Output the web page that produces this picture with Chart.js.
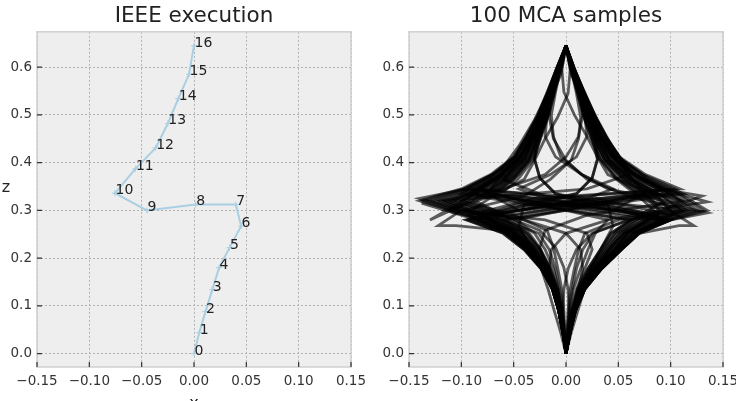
<!DOCTYPE html>
<html>
<head>
<meta charset="utf-8">
<script src="https://cdn.jsdelivr.net/npm/chart.js@4.4.1/dist/chart.umd.min.js"></script>
<style>
    html, body { margin: 0; padding: 0; background: #fff; overflow: hidden; width: 736px; height: 401px; }
    body { position: relative; }
    #ieeeChart { position: absolute; left: 0; top: 0; }
    #mcaChart { position: absolute; left: 370px; top: 0; }
</style>
</head>
<body>
<canvas id="ieeeChart" width="375" height="401" style="width:375px;height:401px"></canvas>
<canvas id="mcaChart" width="380" height="401" style="width:380px;height:401px"></canvas>
<script>
// Ticks
const xTickVals = [-0.15, -0.10, -0.05, 0.00, 0.05, 0.10, 0.15];
const zTickVals = [0.0, 0.1, 0.2, 0.3, 0.4, 0.5, 0.6];

// IEEE execution (points 0..16)
const ieeeX = [0, 0.005, 0.011, 0.0175, 0.024, 0.034, 0.045, 0.040, 0.0016, -0.045, -0.0755, -0.056, -0.0366, -0.025, -0.015, -0.0048, 0];
const ieeeZ = [0, 0.044, 0.088, 0.134, 0.180, 0.222, 0.267, 0.3125, 0.3125, 0.300, 0.336, 0.387, 0.431, 0.482, 0.534, 0.585, 0.645];

// MCA samples: z profiles
const zA = [0, .045, .09, .135, .178, .218, .252, .28, .30, .33, .365, .405, .45, .495, .545, .595, .645];
const zB = [0, .045, .09, .135, .18, .222, .258, .29, .32, .345, .375, .412, .455, .5, .548, .597, .645];
const zC = [0, .045, .09, .135, .178, .218, .252, .28, .31, .335, .368, .407, .452, .497, .546, .596, .645];
const zD = [0, .044, .088, .134, .18, .222, .267, .3125, .3125, .30, .336, .387, .431, .482, .534, .585, .645];
const zE = [0, .045, .09, .135, .178, .218, .255, .29, .325, .345, .375, .412, .455, .5, .548, .597, .645];
const zZ1 = [0, .045, .09, .135, .178, .218, .252, .268, .268, .305, .318, .345, .38, .43, .49, .57, .645];
const zZ2 = [0, .045, .09, .135, .18, .222, .258, .268, .268, .30, .325, .345, .385, .435, .49, .57, .645];
const zZ3 = [0, .045, .09, .135, .178, .218, .252, .28, .295, .31, .33, .345, .375, .415, .47, .55, .645];
const zZ4 = [0, .045, .09, .135, .18, .222, .258, .29, .315, .30, .28, .33, .37, .415, .47, .55, .645];

// MCA samples: x of each sample
const mcaX = [
    // bows to the right
    [0,.004,.009,.018,.034,.053,.070,.100,.135,.112,.078,.053,.039,.028,.018,.008,0],
    [0,.004,.008,.017,.032,.049,.065,.093,.126,.104,.073,.049,.036,.026,.017,.007,0],
    [0,.003,.008,.015,.029,.046,.060,.086,.116,.096,.067,.046,.034,.024,.015,.007,0],
    [0,.003,.007,.014,.027,.041,.055,.078,.105,.087,.061,.041,.030,.022,.014,.006,0],
    [0,.003,.006,.013,.024,.037,.049,.070,.095,.078,.055,.037,.027,.020,.013,.006,0],
    [0,.002,.006,.011,.021,.033,.043,.062,.084,.069,.048,.033,.024,.017,.011,.005,0],
    [0,.004,.009,.017,.033,.051,.068,.097,.131,.109,.076,.051,.038,.027,.017,.008,0],
    [0,.004,.008,.016,.031,.048,.063,.090,.122,.101,.070,.048,.035,.025,.016,.007,0],
    [0,.003,.007,.015,.028,.043,.057,.082,.111,.092,.064,.043,.032,.023,.015,.007,0],
    [0,.003,.007,.013,.025,.039,.052,.074,.100,.083,.058,.039,.029,.021,.013,.006,0],
    [0,.003,.006,.012,.022,.035,.046,.066,.089,.074,.051,.035,.026,.018,.012,.005,0],
    // bows to the left
    [0,-.003,-.007,-.013,-.024,-.040,-.060,-.095,-.140,-.100,-.072,-.050,-.038,-.027,-.018,-.009,0],
    [0,-.003,-.007,-.012,-.022,-.037,-.056,-.088,-.130,-.093,-.067,-.047,-.035,-.025,-.017,-.008,0],
    [0,-.003,-.006,-.011,-.021,-.034,-.052,-.082,-.120,-.086,-.062,-.043,-.033,-.023,-.015,-.008,0],
    [0,-.002,-.005,-.010,-.019,-.031,-.047,-.074,-.109,-.078,-.056,-.039,-.030,-.021,-.014,-.007,0],
    [0,-.002,-.005,-.009,-.017,-.028,-.042,-.067,-.098,-.070,-.050,-.035,-.027,-.019,-.013,-.006,0],
    [0,-.002,-.004,-.008,-.015,-.025,-.037,-.059,-.087,-.062,-.045,-.031,-.024,-.017,-.011,-.006,0],
    [0,-.003,-.007,-.013,-.023,-.039,-.058,-.092,-.136,-.097,-.070,-.049,-.037,-.026,-.017,-.009,0],
    [0,-.003,-.006,-.012,-.022,-.036,-.054,-.086,-.126,-.090,-.065,-.045,-.034,-.024,-.016,-.008,0],
    [0,-.002,-.006,-.011,-.020,-.033,-.049,-.078,-.115,-.082,-.059,-.041,-.031,-.022,-.015,-.007,0],
    [0,-.002,-.005,-.010,-.018,-.030,-.044,-.070,-.104,-.074,-.053,-.037,-.028,-.020,-.013,-.007,0],
    [0,-.002,-.005,-.009,-.016,-.026,-.040,-.063,-.092,-.066,-.048,-.033,-.025,-.018,-.012,-.006,0],
    // crossing the middle band
    [0,.004,.008,.017,.032,.049,.065,.093,.000,-.093,-.067,-.047,-.035,-.025,-.017,-.008,0],
    [0,-.003,-.007,-.012,-.022,-.037,-.056,-.088,.010,.096,.067,.046,.034,.024,.015,.007,0],
    [0,.002,.006,.011,.021,.033,.043,.062,-.030,-.100,-.072,-.050,-.038,-.027,-.018,-.009,0],
    [0,-.002,-.004,-.008,-.015,-.025,-.037,-.059,.030,.112,.078,.053,.039,.028,.018,.008,0],
    [0,.004,.009,.018,.034,.053,.070,.100,.020,-.062,-.045,-.031,-.024,-.017,-.011,-.006,0],
    [0,-.003,-.007,-.013,-.024,-.040,-.060,-.095,-.020,.069,.048,.033,.024,.017,.011,.005,0],
    [0,.003,.007,.014,.027,.041,.055,.078,-.005,-.078,-.056,-.039,-.030,-.021,-.014,-.007,0],
    [0,-.002,-.005,-.010,-.019,-.031,-.047,-.074,.005,.087,.061,.041,.030,.022,.014,.006,0],
    [0,.003,.008,.015,.029,.046,.060,.086,.000,-.086,-.062,-.043,-.033,-.023,-.015,-.008,0],
    [0,-.003,-.006,-.011,-.021,-.034,-.052,-.082,-.010,.104,.073,.049,.036,.026,.017,.007,0],
    [0,.004,.009,.017,.033,.051,.068,.097,.040,-.074,-.053,-.037,-.028,-.020,-.013,-.007,0],
    [0,-.003,-.007,-.013,-.023,-.039,-.058,-.092,-.040,.083,.058,.039,.029,.021,.013,.006,0],
    [0,.004,.009,.018,.034,.053,.070,.100,.030,-.097,-.070,-.049,-.037,-.026,-.017,-.009,0],
    [0,-.003,-.007,-.013,-.023,-.039,-.058,-.092,-.030,.109,.076,.051,.038,.027,.017,.008,0],
    [0,.003,.007,.015,.028,.043,.057,.082,.111,-.020,-.060,-.045,-.033,-.025,-.017,-.008,0],
    [0,-.002,-.006,-.011,-.020,-.033,-.049,-.078,-.115,.020,.060,.045,.033,.025,.017,.008,0],
    [0,.003,.008,.015,.029,.046,.060,.086,-.050,-.086,-.062,-.043,-.033,-.023,-.015,-.008,0],
    [0,-.003,-.006,-.011,-.021,-.034,-.052,-.082,.050,.096,.067,.046,.034,.024,.015,.007,0],
    // like the IEEE run
    [0,.005,.011,.0175,.024,.034,.045,.040,.0016,-.045,-.0755,-.056,-.0366,-.025,-.015,-.0048,0],
    [0,-.005,-.011,-.017,-.024,-.034,-.045,-.040,-.002,.045,.075,.056,.037,.025,.015,.005,0],
    // lower web
    [0,.002,.004,.007,.014,.021,.028,.040,-.020,-.070,-.050,-.035,-.027,-.019,-.013,-.006,0],
    [0,-.002,-.004,-.007,-.012,-.020,-.030,-.048,.020,.078,.055,.037,.027,.020,.013,.006,0],
    [0,.003,.007,.012,.016,.014,.000,-.040,-.090,-.070,-.050,-.035,-.027,-.019,-.013,-.006,0],
    [0,-.003,-.007,-.012,-.016,-.014,.000,.040,.090,.078,.055,.037,.027,.020,.013,.006,0],
    [0,.001,.002,.004,.008,.012,.018,.050,.100,.087,.061,.041,.030,.022,.014,.006,0],
    [0,-.001,-.002,-.004,-.008,-.012,-.018,-.050,-.100,-.078,-.056,-.039,-.030,-.021,-.014,-.007,0],
    [0,.002,.005,.010,.018,.025,.020,-.020,-.110,-.082,-.059,-.041,-.031,-.022,-.015,-.007,0],
    [0,-.002,-.005,-.010,-.018,-.025,-.020,.020,.110,.092,.064,.043,.032,.023,.015,.007,0],
    [0,.001,.003,.006,.010,.016,.026,.060,-.020,-.090,-.065,-.045,-.034,-.024,-.016,-.008,0],
    [0,-.001,-.003,-.006,-.010,-.016,-.026,-.060,.020,.101,.070,.048,.035,.025,.016,.007,0],
    [0,-.002,-.003,-.002,.002,.010,.025,.060,.110,.092,.064,.043,.032,.023,.015,.007,0],
    [0,.002,.003,.002,-.002,-.010,-.025,-.060,-.110,-.082,-.059,-.041,-.031,-.022,-.015,-.007,0],
    // upper web
    [0,.003,.008,.015,.029,.046,.060,.086,.116,.060,.020,.000,-.012,-.016,-.014,-.007,0],
    [0,-.003,-.006,-.011,-.021,-.034,-.052,-.082,-.120,-.060,-.020,.000,.012,.016,.014,.007,0],
    [0,-.002,-.005,-.009,-.017,-.028,-.042,-.067,-.098,-.040,-.015,.005,.012,.014,.010,.005,0],
    [0,.003,.006,.013,.024,.037,.049,.070,.095,.040,.015,-.005,-.012,-.014,-.010,-.005,0],
    [0,.004,.009,.018,.034,.053,.070,.100,.050,-.010,-.025,-.030,-.028,-.022,-.015,-.007,0],
    [0,-.003,-.007,-.013,-.024,-.040,-.060,-.095,-.050,.010,.025,.030,.028,.022,.015,.007,0],
    [0,.004,.008,.016,.031,.048,.063,.090,.030,-.010,-.025,-.030,-.025,-.018,-.012,-.005,0],
    [0,-.003,-.006,-.012,-.022,-.036,-.054,-.086,-.030,.010,.025,.030,.025,.018,.012,.005,0],
    [0,.003,.007,.015,.028,.043,.057,.082,.111,.070,.040,.030,.020,.008,-.002,-.004,0],
    [0,-.002,-.006,-.011,-.020,-.033,-.049,-.078,-.115,-.070,-.040,-.030,-.020,-.008,.002,.004,0],
    [0,.003,.007,.013,.025,.039,.052,.074,-.020,-.045,-.015,.010,.020,.018,.012,.005,0],
    [0,-.002,-.005,-.010,-.018,-.030,-.044,-.070,.020,.045,.015,-.010,-.020,-.018,-.012,-.005,0],
    // zigzags at the tips
    [0,.004,.009,.018,.034,.053,.070,.108,.122,.095,.135,.092,.062,.045,.030,.012,0],
    [0,-.003,-.007,-.013,-.024,-.040,-.060,-.105,-.122,-.100,-.140,-.095,-.062,-.045,-.030,-.012,0],
    [0,.004,.008,.017,.032,.049,.065,.100,.135,.105,.130,.090,.065,.047,.030,.012,0],
    [0,-.003,-.007,-.012,-.022,-.037,-.056,-.100,-.138,-.110,-.130,-.090,-.065,-.047,-.030,-.012,0]
];
const mcaZ = [
    zA, zA, zA, zA, zA, zA, zA, zA, zA, zA, zA,
    zB, zB, zB, zB, zB, zB, zB, zB, zB, zB, zB,
    zC, zC, zC, zC, zC, zC, zC, zC, zE, zE, zC, zC, zE, zE, zA, zB, zE, zE,
    zD, zD,
    zC, zC, zA, zA, zA, zB, zA, zB, zC, zC, zA, zB,
    zA, zB, zA, zB, zC, zC, zC, zC, zB, zA, zE, zE,
    zZ1, zZ2, zZ3, zZ4
];

const FONT = "'DejaVu Sans', sans-serif";

function fmtX(v) {
    return (v < -1e-9 ? '\u2212' : '') + Math.abs(v).toFixed(2);
}

// Fondo gris, marco y ticks hacia adentro (estilo bmh)
const framePlugin = {
    id: 'frame',
    beforeDraw(chart) {
        const a = chart.chartArea, ctx = chart.ctx;
        ctx.save();
        ctx.fillStyle = '#eeeeee';
        ctx.fillRect(a.left, a.top, a.right - a.left, a.bottom - a.top);
        ctx.restore();
    },
    afterDraw(chart) {
        const a = chart.chartArea, ctx = chart.ctx;
        ctx.save();
        ctx.strokeStyle = '#cfcfcf';
        ctx.lineWidth = 1.5;
        ctx.strokeRect(a.left, a.top, a.right - a.left, a.bottom - a.top);
        ctx.strokeStyle = '#333';
        ctx.lineWidth = 1.2;
        ctx.beginPath();
        chart.scales.x.ticks.forEach(t => {
            const px = chart.scales.x.getPixelForValue(t.value);
            ctx.moveTo(px, a.bottom);
            ctx.lineTo(px, a.bottom - 5);
        });
        chart.scales.y.ticks.forEach(t => {
            const py = chart.scales.y.getPixelForValue(t.value);
            ctx.moveTo(a.left, py);
            ctx.lineTo(a.left + 5, py);
        });
        ctx.stroke();
        ctx.restore();
    }
};

// Etiquetas de los puntos y de los ejes
const labelsPlugin = {
    id: 'pointLabels',
    afterDatasetsDraw(chart) {
        const ctx = chart.ctx, sx = chart.scales.x, sy = chart.scales.y, a = chart.chartArea;
        ctx.save();
        ctx.fillStyle = '#222';
        ctx.font = '14px ' + FONT;
        ctx.textAlign = 'left';
        ctx.textBaseline = 'alphabetic';
        ieeeX.forEach((x, i) => {
            ctx.fillText(String(i), sx.getPixelForValue(x) + 0.5, sy.getPixelForValue(ieeeZ[i]) + 1);
        });
        ctx.font = '16px ' + FONT;
        ctx.textAlign = 'center';
        ctx.textBaseline = 'top';
        ctx.fillText('x', (a.left + a.right) / 2, 396);
        ctx.textBaseline = 'middle';
        ctx.fillText('z', 6, 188);
        ctx.restore();
    }
};

function makeOptions(title, padLeft, padRight) {
    return {
        responsive: false,
        animation: false,
        layout: { padding: { left: padLeft, right: padRight, top: 0, bottom: 0 } },
        plugins: {
            legend: { display: false },
            tooltip: { enabled: false },
            title: {
                display: true,
                text: title,
                fullSize: false,
                color: '#222',
                font: { family: FONT, size: 21.5, weight: 'normal' },
                padding: { top: 4, bottom: 2 }
            }
        },
        scales: {
            x: {
                type: 'linear',
                min: -0.15,
                max: 0.15,
                afterBuildTicks: s => { s.ticks = xTickVals.map(v => ({ value: v })); },
                afterFit: s => { s.height = 34; },
                grid: { color: '#b2b2b2', lineWidth: 1, drawTicks: false },
                border: { display: false, dash: [2, 2] },
                ticks: {
                    color: '#333',
                    padding: 6,
                    maxRotation: 0,
                    font: { family: FONT, size: 13.5 },
                    callback: v => fmtX(v)
                }
            },
            y: {
                type: 'linear',
                min: -0.028,
                max: 0.674,
                afterBuildTicks: s => { s.ticks = zTickVals.map(v => ({ value: v })); },
                afterFit: s => { s.width = 37; },
                grid: { color: '#b2b2b2', lineWidth: 1, drawTicks: false },
                border: { display: false, dash: [2, 2] },
                ticks: {
                    color: '#333',
                    padding: 5,
                    font: { family: FONT, size: 13.5 },
                    callback: v => v.toFixed(1)
                }
            }
        }
    };
}

// Grafico IEEE
new Chart(document.getElementById('ieeeChart').getContext('2d'), {
    type: 'line',
    data: {
        datasets: [{
            data: ieeeX.map((x, i) => ({ x: x, y: ieeeZ[i] })),
            borderColor: '#a9cfe3',
            backgroundColor: '#a9cfe3',
            borderWidth: 2,
            pointStyle: 'cross',
            pointRadius: 3,
            pointBorderWidth: 1,
            tension: 0
        }]
    },
    options: makeOptions('IEEE execution', 0, 24),
    plugins: [framePlugin, labelsPlugin]
});

// Grafico de las muestras MCA
new Chart(document.getElementById('mcaChart').getContext('2d'), {
    type: 'line',
    data: {
        datasets: mcaX.map((xs, k) => ({
            data: xs.map((x, i) => ({ x: x, y: mcaZ[k][i] })),
            borderColor: 'rgba(0, 0, 0, 0.62)',
            borderWidth: 2.8,
            pointRadius: 0,
            tension: 0
        }))
    },
    options: makeOptions('100 MCA samples', 2, 27),
    plugins: [framePlugin]
});
</script>
</body>
</html>
